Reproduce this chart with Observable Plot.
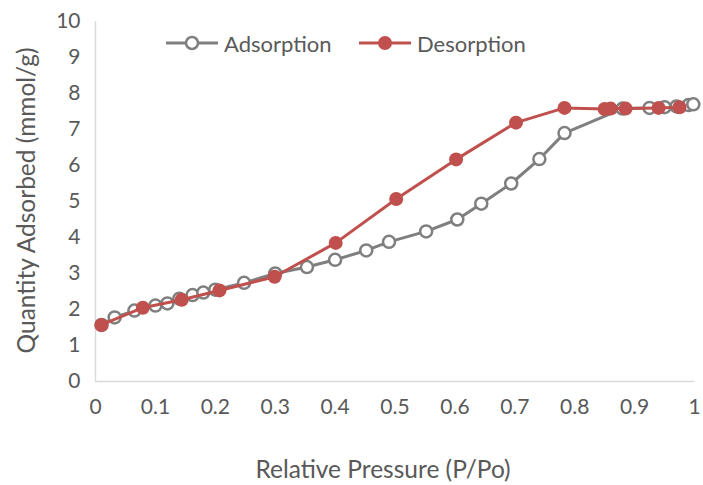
<!DOCTYPE html>
<html><head><meta charset="utf-8">
<script src="https://cdn.jsdelivr.net/npm/d3@7"></script>
<script src="https://cdn.jsdelivr.net/npm/@observablehq/plot@0.6"></script>
<style>
body{margin:0;background:#fff;}
#wrap{position:relative;width:703px;height:485px;font-family:Lato,sans-serif;color:#595959;}
.leg{position:absolute;top:31px;height:24px;display:flex;align-items:center;font-size:22px;white-space:nowrap;}
.leg svg{margin-right:6px;}
</style></head><body><div id="wrap"></div>
<script>
const seriesNames = ["Adsorption", "Desorption"];
const seriesColors = ["#7f7f7f", "#c0504d"];
const xLabel = "Relative Pressure (P/Po)";
const yLabel = "Quantity Adsorbed (mmol/g)";

const adsP = [0.010, 0.032, 0.065, 0.100, 0.120, 0.140, 0.162, 0.180, 0.200, 0.248, 0.300, 0.353, 0.400, 0.452, 0.490, 0.552, 0.604, 0.644, 0.694, 0.741, 0.783, 0.880, 0.925, 0.950, 0.970, 0.990, 0.998];
const adsQ = [1.57, 1.78, 1.97, 2.11, 2.17, 2.30, 2.40, 2.47, 2.55, 2.74, 3.00, 3.18, 3.38, 3.64, 3.88, 4.17, 4.50, 4.94, 5.50, 6.18, 6.90, 7.58, 7.60, 7.62, 7.64, 7.68, 7.70];

const desP = [0.975, 0.940, 0.885, 0.860, 0.850, 0.783, 0.702, 0.602, 0.502, 0.401, 0.299, 0.207, 0.144, 0.079, 0.010];
const desQ = [7.62, 7.60, 7.58, 7.58, 7.57, 7.60, 7.19, 6.17, 5.07, 3.85, 2.91, 2.53, 2.27, 2.05, 1.57];

const xTicks = [0, 0.1, 0.2, 0.3, 0.4, 0.5, 0.6, 0.7, 0.8, 0.9, 1];
const xTickLabels = ["0", "0.1", "0.2", "0.3", "0.4", "0.5", "0.6", "0.7", "0.8", "0.9", "1"];
const yTicks = [0, 1, 2, 3, 4, 5, 6, 7, 8, 9, 10];

const ads = adsP.map((p, i) => ({p, q: adsQ[i]}));
const des = desP.map((p, i) => ({p, q: desQ[i]}));

const chart = Plot.plot({
  width: 703, height: 485,
  marginLeft: 95, marginRight: 9, marginTop: 21, marginBottom: 104,
  style: {fontFamily: "Lato, sans-serif", fontSize: "21px", color: "#595959", background: "white"},
  x: {domain: [0, 1]},
  y: {domain: [0, 10]},
  marks: [
    Plot.axisY({ticks: yTicks, tickSize: 0, tickPadding: 15, label: null, fontSize: 21}),
    Plot.axisX({ticks: xTicks, tickSize: 0, tickPadding: 18, label: null, fontSize: 21,
      tickFormat: d => xTickLabels[xTicks.findIndex(t => Math.abs(t - d) < 1e-9)]}),
    Plot.ruleX([0], {stroke: "#d9d9d9", strokeWidth: 1.5}),
    Plot.ruleY([0], {stroke: "#d9d9d9", strokeWidth: 1.5}),
    Plot.line(ads, {x: "p", y: "q", stroke: seriesColors[0], strokeWidth: 3}),
    Plot.dot(ads, {x: "p", y: "q", r: 6, stroke: seriesColors[0], strokeWidth: 2.5, fill: "white"}),
    Plot.line(des, {x: "p", y: "q", stroke: seriesColors[1], strokeWidth: 3}),
    Plot.dot(des, {x: "p", y: "q", r: 7, fill: seriesColors[1], stroke: "none"}),
    Plot.text([yLabel], {frameAnchor: "left", textAnchor: "middle", lineAnchor: "middle", dx: -68, dy: -1, rotate: -90, fill: "#595959", fontSize: 24.5}),
    Plot.text([xLabel], {frameAnchor: "bottom", textAnchor: "middle", lineAnchor: "middle", dy: 89, dx: -12, fill: "#595959", fontSize: 24.5})
  ]
});
const wrap = document.getElementById("wrap");
wrap.appendChild(chart);

function legendItem(name, color, filled, left) {
  const d = document.createElement("div");
  d.className = "leg";
  d.style.left = left + "px";
  const sym = filled
    ? `<circle cx="26" cy="12" r="7" fill="${color}"/>`
    : `<circle cx="26" cy="12" r="6" fill="white" stroke="${color}" stroke-width="2.5"/>`;
  d.innerHTML = `<svg width="52" height="24"><line x1="0" x2="52" y1="12" y2="12" stroke="${color}" stroke-width="3"/>${sym}</svg><span>${name}</span>`;
  wrap.appendChild(d);
}
legendItem(seriesNames[0], seriesColors[0], false, 166);
legendItem(seriesNames[1], seriesColors[1], true, 359);
</script></body></html>
